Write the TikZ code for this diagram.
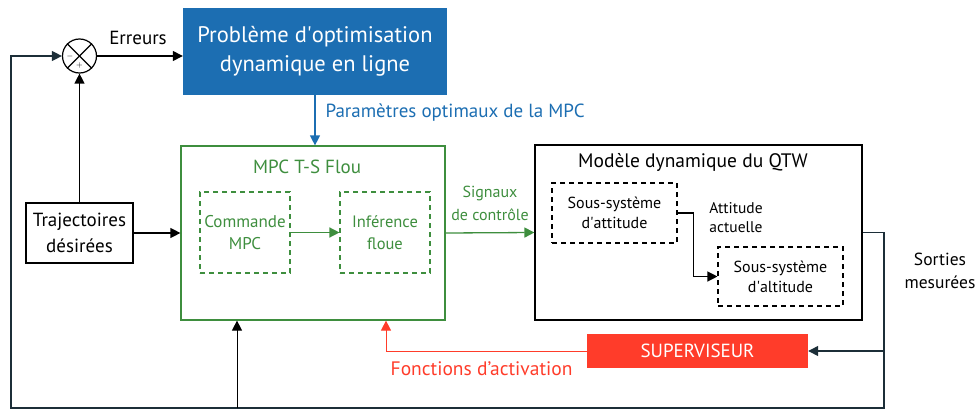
\documentclass[tikz,border=0pt]{standalone}
\usepackage{fontspec}
\setmainfont{PT Sans}
\usetikzlibrary{arrows.meta,calc}

\definecolor{optblue}{RGB}{28,110,178}
\definecolor{mpcgreen}{RGB}{62,142,62}
\definecolor{supred}{RGB}{255,60,42}
\definecolor{loopdark}{RGB}{28,46,56}

\newcommand{\fsz}[2]{\fontsize{#1}{#2}\selectfont}

\begin{document}
\begin{tikzpicture}[
  x=1pt,y=-1pt,
  block/.style={draw,line width=1.2pt,inner sep=0pt,align=center},
  subblock/.style={draw,dashed,dash pattern=on 5pt off 4pt,line width=1.1pt,inner sep=0pt,align=center},
  label/.style={font=\fsz{17}{22},align=center},
  tinylabel/.style={font=\fsz{8}{8},inner sep=0pt},
  conn/.style={line width=1.3pt,-{Triangle[length=10pt,width=10pt]}},
  feedback/.style={conn,loopdark}
]
  \useasboundingbox (0,0) rectangle (977,412);

  % blocks
  \node[block,label,font=\fsz{19}{26},minimum width=107,minimum height=60] (traj) at (79.5,233) {Trajectoires\\désirées};
  \node[draw,line width=1.2pt,circle,minimum size=34,inner sep=0pt] (sum) at (79.5,56) {};
  \draw[line width=1.2pt] (sum.north east) -- (sum.south west);
  \draw[line width=1.2pt] (sum.north west) -- (sum.south east);
  \node[tinylabel] (minus) at (70,56.5) {$-$};
  \node[tinylabel] (plus) at (79.5,65.5) {$+$};

  \node[fill=optblue,text=white,label,font=\fsz{22.5}{29},minimum width=264,minimum height=87,inner sep=0pt] (opt) at (315,51.5) {Problème d\textquotesingle optimisation\\dynamique en ligne};

  \node[block,draw=mpcgreen,minimum width=264,minimum height=174] (mpc) at (313,233) {};
  \node[label,text=mpcgreen,font=\fsz{19}{22}] (mpctitle) at (307,167) {MPC T-S Flou};
  \node[subblock,draw=mpcgreen,label,text=mpcgreen,minimum width=90,minimum height=81] (cmd) at (245,232.5) {Commande\\MPC};
  \node[subblock,draw=mpcgreen,label,text=mpcgreen,font=\fsz{16.5}{22},minimum width=90,minimum height=81] (inf) at (385,232.5) {Inférence\\floue};

  \node[block,minimum width=327,minimum height=175] (model) at (698.5,232.5) {};
  \node[label,font=\fsz{19.5}{22}] (modeltitle) at (693,162) {Modèle dynamique du QTW};
  \node[subblock,label,font=\fsz{16}{20},minimum width=125,minimum height=60] (att) at (614.5,213) {Sous-système\\d\textquotesingle attitude};
  \node[subblock,label,font=\fsz{16}{20},minimum width=125,minimum height=59] (alt) at (780.5,276.5) {Sous-système\\d\textquotesingle altitude};

  \node[fill=supred,text=white,label,font=\fsz{19}{22},minimum width=221,minimum height=34,inner sep=0pt] (sup) at (697.5,351) {SUPERVISEUR};

  % texts
  \node[label,font=\fsz{19}{22}] (err) at (138,38) {Erreurs};
  \node[label,text=optblue,anchor=west,font=\fsz{19}{22}] (param) at (322,113) {Paramètres optimaux de la MPC};
  \node[label,text=mpcgreen,font=\fsz{16}{23}] (sig) at (490,203) {Signaux\\de contrôle};
  \node[label,font=\fsz{15.5}{19}] (attact) at (736,218) {Attitude\\actuelle};
  \node[label,font=\fsz{17.5}{23}] (sorties) at (940,271) {Sorties\\mesurées};
  \node[label,text=supred,anchor=east,font=\fsz{19.5}{22}] (fonc) at (576,369) {Fonctions d’activation};

  % connectors
  \coordinate (rb) at (884,408);
  \coordinate (lb) at (11,408);
  \coordinate (fb) at (237,408);
  \coordinate (actin) at ($(mpc.south)+(73,0)$);

  \draw[conn] (traj.north) -- (sum.south);
  \draw[conn] (traj.east) -- (mpc.west);
  \draw[conn] (sum.east) -- (sum.east -| opt.west);
  \draw[conn,optblue] (opt.south) -- (opt.south |- mpc.north);
  \draw[conn,mpcgreen] (cmd.east) -- (inf.west);
  \draw[conn,mpcgreen] (mpc.east) -- (model.west);
  \draw[conn,line width=1.2pt] (att.east) -- ++(16,0) |- (alt.west);
  \draw[feedback] (model.east) -| (rb) -- (lb) |- (sum.west);
  \draw[feedback] (rb |- sup.east) -- (sup.east);
  \draw[conn,line width=1pt] (fb) -- (fb |- mpc.south);
  \draw[conn,supred,line width=1pt] (sup.west) -| (actin);
\end{tikzpicture}
\end{document}
